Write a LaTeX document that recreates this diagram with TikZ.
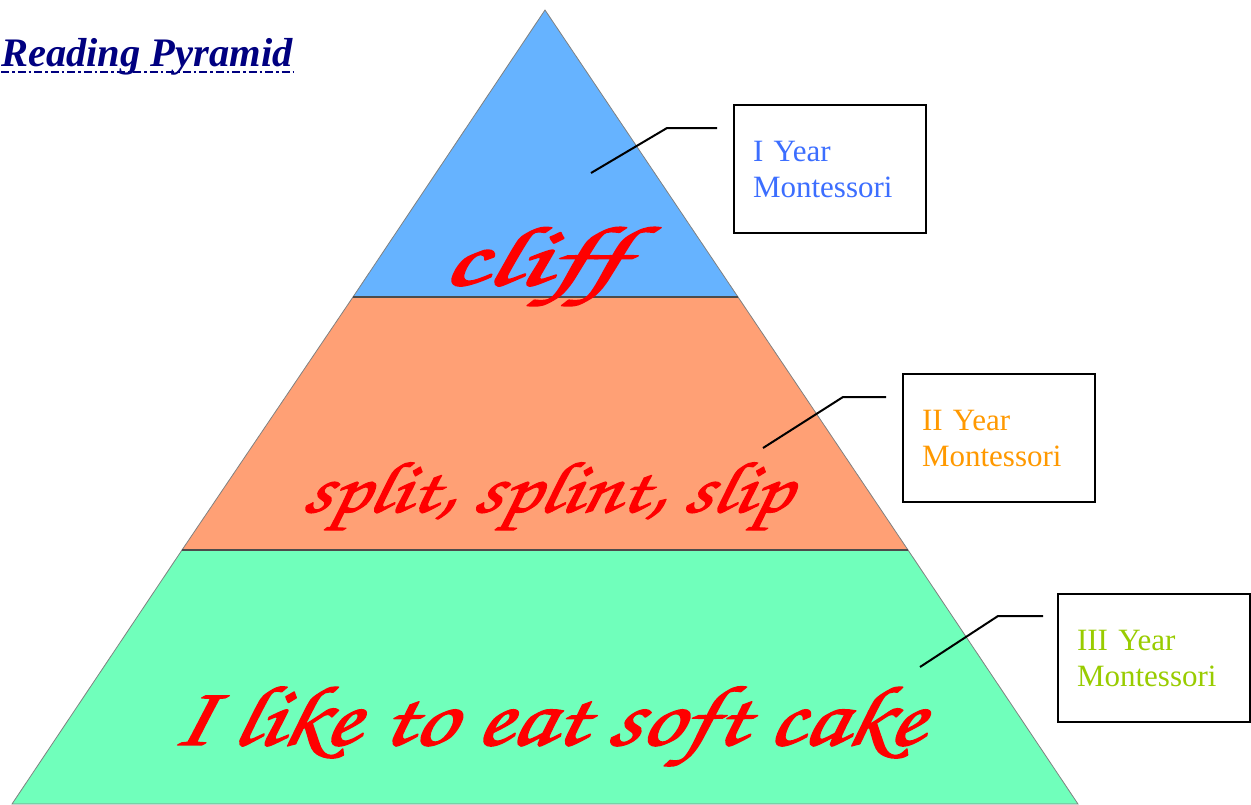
\documentclass[tikz,border=0pt]{standalone}
\usepackage[T1]{fontenc}
\usepackage{fontspec}
\setmainfont{Liberation Serif}
\newcommand\cursivefont{\fontencoding{T1}\fontfamily{pzc}\fontseries{mb}\fontshape{it}\selectfont}
\newcommand\heavytext[2]{\special{pdf:literal 2 Tr #1 w 1 0 0 RG 1 j}#2\special{pdf:literal 0 Tr}}
\definecolor{tierA}{RGB}{102,179,255}
\definecolor{tierB}{RGB}{255,160,117}
\definecolor{tierC}{RGB}{112,255,187}
\definecolor{labA}{RGB}{60,110,255}
\definecolor{labB}{RGB}{255,153,0}
\definecolor{labC}{RGB}{153,204,0}
\definecolor{navy}{RGB}{0,0,128}
\tikzset{
  tier/.style={draw=black!50, line width=0.8pt},
  sep/.style={draw=black!70, line width=1.4pt},
  labelbox/.style={draw=black, line width=2pt, fill=white, minimum width=192pt, minimum height=128pt,
     inner xsep=19pt, anchor=north west, align=left, text width=154pt,
     font=\fontsize{31}{36}\selectfont},
  leader/.style={draw=black, line width=2pt},
  script/.style={text=red, inner sep=0pt, xslant=0.22}
}
\begin{document}
\begin{tikzpicture}[x=1pt,y=-1pt]
\useasboundingbox (0,0) rectangle (1251,804);
% tiers
\path[tier, fill=tierC] (182,550) -- (908,550) -- (1078,804) -- (12,804) -- cycle;
\path[tier, fill=tierB] (353,297) -- (738,297) -- (908,550) -- (182,550) -- cycle;
\path[tier, fill=tierA] (545,10) -- (738,297) -- (353,297) -- cycle;
\path[sep] (353,297) -- (738,297);
\path[sep] (182,550) -- (908,550);
% title
\node[anchor=base west, inner sep=0pt, text=navy, font=\fontsize{40.5}{42}\selectfont\bfseries\itshape] (title) at (1,66) {Reading Pyramid};
\draw[navy, line width=2.5pt, dash pattern=on 8pt off 3pt on 2.5pt off 3pt] (title.south west |- 0,72) coordinate (ul1) -- (title.south east |- 0,72) coordinate (ul2);
% boxes
\node[labelbox, text=labA] (b1) at (733,104) {I Year\\Montessori};
\node[labelbox, text=labB] (b2) at (902,373) {II Year\\Montessori};
\node[labelbox, text=labC] (b3) at (1057,593) {III Year\\Montessori};
% leaders
\coordinate (p1) at (591,173); \coordinate (k1) at (667,128); \coordinate (e1) at (717,128);
\coordinate (p2) at (763,448); \coordinate (k2) at (843,397); \coordinate (e2) at (886,397);
\coordinate (p3) at (920,667); \coordinate (k3) at (998,616); \coordinate (e3) at (1043,616);
\path[leader] (p1) -- (k1) -- (e1);
\path[leader] (p2) -- (k2) -- (e2);
\path[leader] (p3) -- (k3) -- (e3);
% script words
\node[script, anchor=base, xscale=1.5, font=\fontsize{85}{90}\cursivefont] (w1) at (530,285) {\heavytext{1.6}{cliff}};
\node[script, anchor=base, xscale=1.17, font=\fontsize{73}{80}\cursivefont] (w2) at (545,512) {\heavytext{1.2}{split, splint, slip}};
\node[script, anchor=base, xscale=1.18, font=\fontsize{86}{90}\cursivefont] (w3) at (545,745) {\heavytext{1.4}{I like to eat soft cake}};
\end{tikzpicture}
\end{document}
